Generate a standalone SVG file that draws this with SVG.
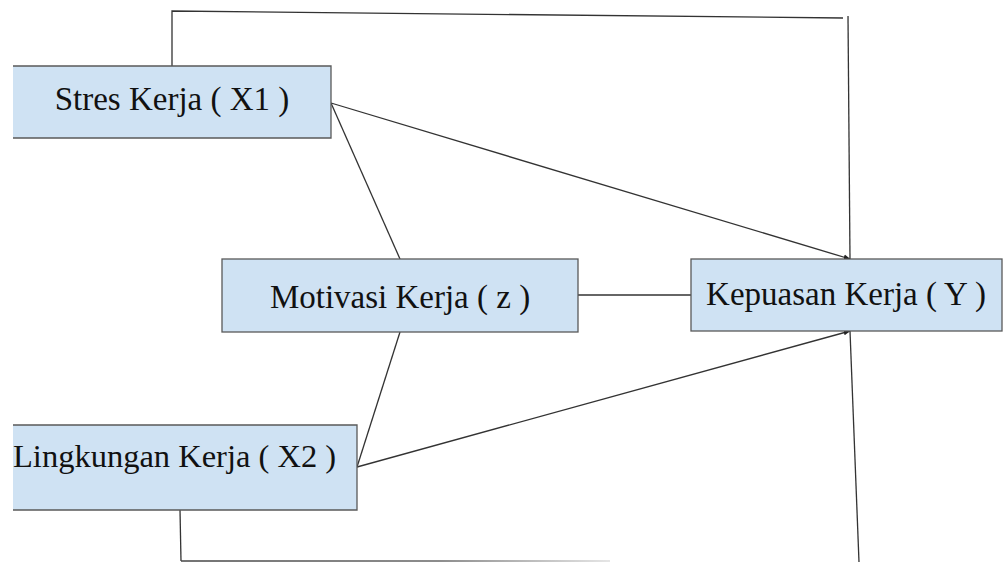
<svg xmlns="http://www.w3.org/2000/svg" width="1004" height="563" viewBox="0 0 1004 563">
<style>
.box{fill:#cfe2f3;stroke:#595959;stroke-width:1.3}
.fill{fill:#cfe2f3}
.edge{fill:none;stroke:#595959;stroke-width:1.3}
.lbl{font-family:"Liberation Serif","Times New Roman",serif;font-size:33px;fill:#111}
.c{fill:none;stroke:#333;stroke-width:1.3}
</style>
<defs>
<marker id="ah" viewBox="0 0 10 10" refX="9" refY="5" markerWidth="7" markerHeight="7" markerUnits="userSpaceOnUse" orient="auto">
<path d="M0,1 L10,5 L0,9 Z" fill="#222"/>
</marker>
<linearGradient id="fade" x1="181" y1="0" x2="610" y2="0" gradientUnits="userSpaceOnUse">
<stop offset="0" stop-color="#444"/>
<stop offset="0.6" stop-color="#666"/>
<stop offset="1" stop-color="#ddd"/>
</linearGradient>
</defs>
<g id="connectors">
<polyline class="c" points="172,66 172,11 843,18"/>
<line class="c" x1="848" y1="16" x2="850" y2="259"/>
<line class="c" x1="331" y1="103" x2="850" y2="259" marker-end="url(#ah)"/>
<line class="c" x1="331" y1="103" x2="400" y2="259"/>
<line class="c" x1="357" y1="467" x2="400" y2="332"/>
<line class="c" x1="357" y1="467" x2="850" y2="331" marker-end="url(#ah)"/>
<line class="c" x1="578" y1="295" x2="691" y2="295"/>
<polyline class="c" points="180,510 181,561"/>
<line x1="181" y1="561" x2="610" y2="561" stroke="url(#fade)" stroke-width="1.3"/>
<line class="c" x1="850" y1="331" x2="859" y2="562"/>
</g>
<g id="stres">
<rect class="fill" x="13" y="66" width="318" height="72"/>
<path class="edge" d="M13,66 H331 V138 H13"/>
<text class="lbl" x="172" y="110" text-anchor="middle">Stres Kerja ( X1 )</text>
</g>
<g id="motivasi">
<rect class="box" x="222" y="259" width="356" height="73"/>
<text class="lbl" x="400" y="308" text-anchor="middle">Motivasi Kerja ( z )</text>
</g>
<g id="kepuasan">
<rect class="box" x="691" y="259" width="311" height="72"/>
<text class="lbl" x="846" y="305" text-anchor="middle">Kepuasan Kerja ( Y )</text>
</g>
<g id="lingkungan">
<rect class="fill" x="13" y="425" width="344" height="85"/>
<path class="edge" d="M13,425 H357 V510 H13"/>
<text class="lbl" x="13" y="467" style="font-size:32.5px">Lingkungan Kerja ( X2 )</text>
</g>
</svg>
